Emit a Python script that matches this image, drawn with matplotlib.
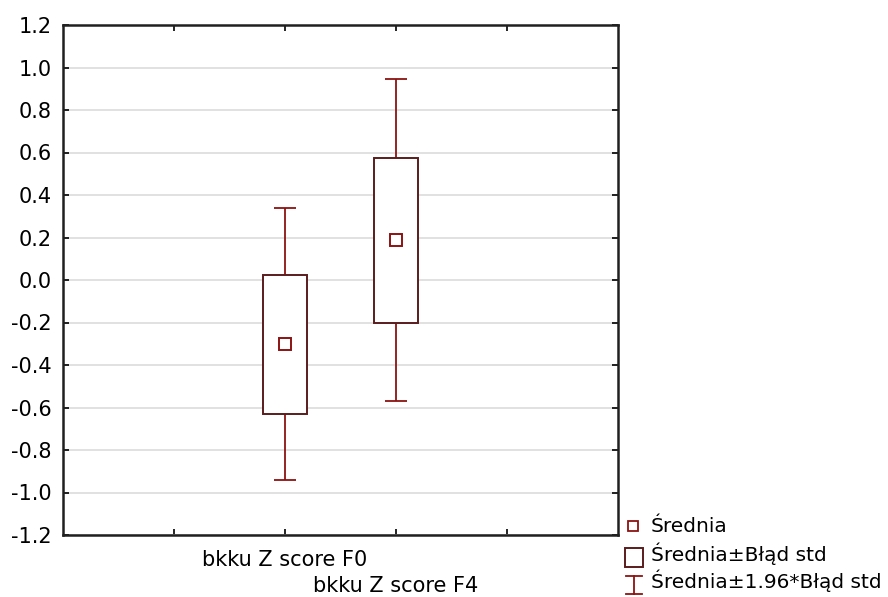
import numpy as np
import matplotlib.pyplot as plt
from matplotlib.patches import Rectangle
from matplotlib.lines import Line2D

plt.rcParams['font.family'] = ['DejaVu Sans']

# means and standard errors of the two variables
labels = ['bkku Z score F0', 'bkku Z score F4']
means = np.array([-0.302, 0.187])
std_err = np.array([0.327, 0.387])
positions = np.array([2, 3])
yticks = np.round(np.arange(-1.2, 1.21, 0.2), 1) + 0.0

box_col = '#5b1c1c'
whisk_col = '#8c1212'

fig = plt.figure(figsize=(8.88, 5.97), dpi=100)
ax = fig.add_axes([63 / 888, 1 - 535 / 597, 555 / 888, 510 / 597])

box_w = 0.4
cap_w = 0.2
for x, m, se in zip(positions, means, std_err):
    lo, hi = m - se, m + se
    wlo, whi = m - 1.96 * se, m + 1.96 * se
    ax.vlines(x, hi, whi, color=whisk_col, lw=1.3, zorder=2)
    ax.vlines(x, wlo, lo, color=whisk_col, lw=1.3, zorder=2)
    ax.hlines([wlo, whi], x - cap_w / 2, x + cap_w / 2, color=whisk_col, lw=1.3, zorder=2)
    ax.add_patch(Rectangle((x - box_w / 2, lo), box_w, hi - lo, facecolor='white',
                           edgecolor=box_col, lw=1.4, zorder=3))
ax.plot(positions, means, ls='none', marker='s', ms=8, mfc='white', mec=whisk_col,
        mew=1.4, zorder=4)

ax.set_xlim(0, 5)
ax.set_ylim(-1.2, 1.2)
ax.set_yticks(yticks)
ax.set_yticklabels([f'{abs(v):.1f}' if abs(v) < 1e-9 else f'{v:.1f}' for v in yticks])
ax.set_xticks([1, 2, 3, 4])
ax.set_xticklabels(['', labels[0], labels[1], ''])
ax.yaxis.grid(True, color='#dcdcdc', lw=1.2, zorder=0)
ax.set_axisbelow(True)

ax.tick_params(direction='in', top=True, right=True, length=4, width=1.2,
               labelsize=15, colors='black')
ax.tick_params(axis='y', pad=8)
ax.tick_params(axis='x', pad=11)
ax.xaxis.get_major_ticks()[2].set_pad(29.5)
for s in ax.spines.values():
    s.set_linewidth(1.8)
    s.set_color('#202020')

# legend drawn in figure pixels
W, H = 888, 597
def fx(px):
    return px / W
def fy(py):
    return 1 - py / H

fig.add_artist(Line2D([fx(633)], [fy(526)], ls='none', marker='s', ms=7.5, mfc='white',
                      mec=whisk_col, mew=1.3))
fig.add_artist(Rectangle((fx(625), fy(567)), 18 / W, 19 / H, facecolor='white',
                         edgecolor=box_col, lw=1.4))
fig.add_artist(Line2D([fx(634), fx(634)], [fy(576), fy(594)], color=whisk_col, lw=1.3))
fig.add_artist(Line2D([fx(626), fx(642)], [fy(576), fy(576)], color=whisk_col, lw=1.3))
fig.add_artist(Line2D([fx(626), fx(642)], [fy(594), fy(594)], color=whisk_col, lw=1.3))
for ty, txt in [(526, 'Średnia'), (554, 'Średnia±Błąd std'), (581, 'Średnia±1.96*Błąd std')]:
    fig.text(fx(651), fy(ty), txt, fontsize=14.5, va='center', ha='left')

fig.savefig('out.png', dpi=100)
